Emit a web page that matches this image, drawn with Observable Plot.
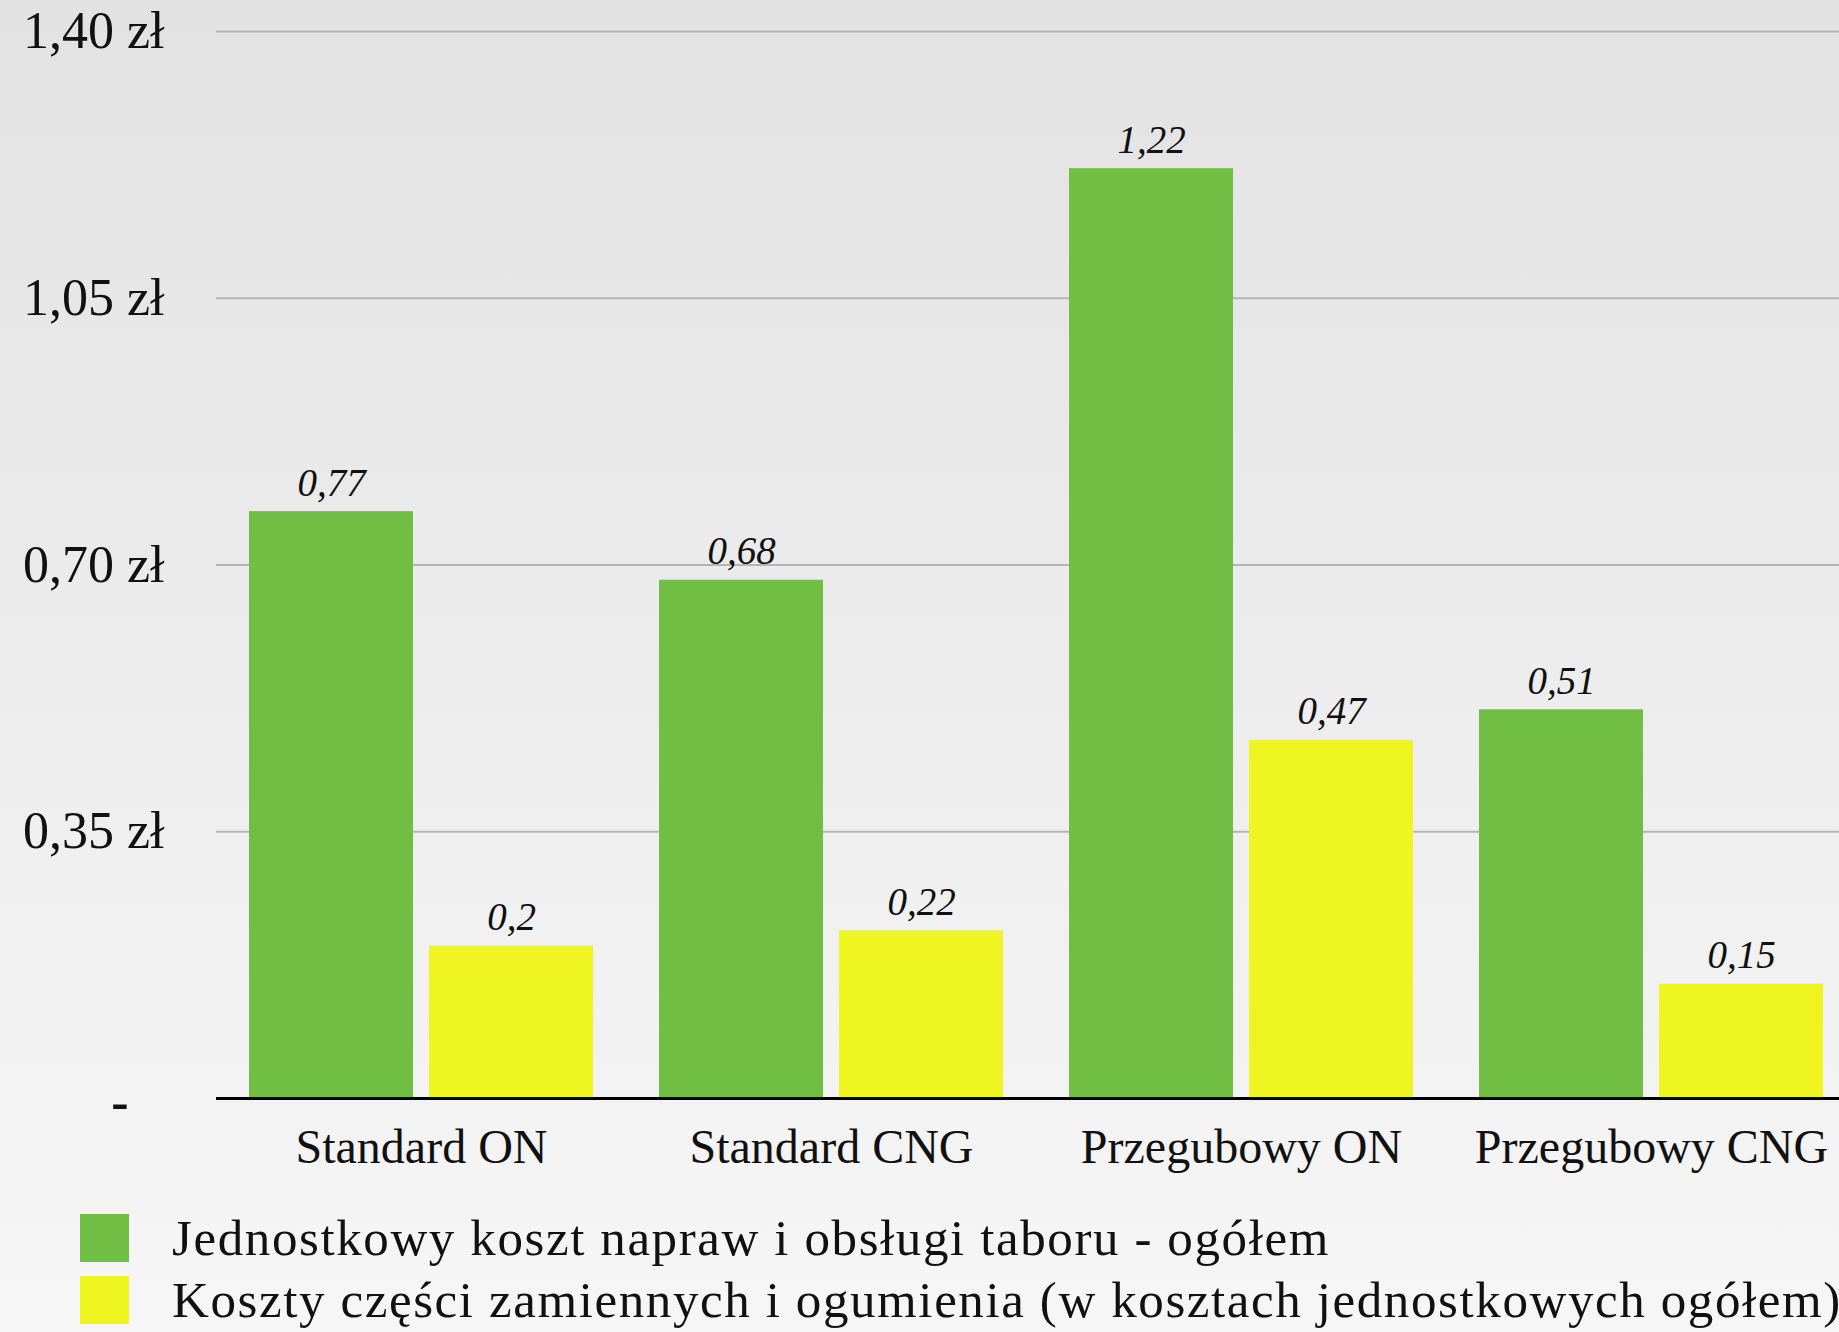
<!DOCTYPE html>
<html>
<head>
<meta charset="utf-8">
<script src="https://cdn.jsdelivr.net/npm/d3@7"></script>
<script src="https://cdn.jsdelivr.net/npm/@observablehq/plot@0.6"></script>
<style>
  html, body { margin: 0; padding: 0; }
  body {
    width: 1839px; height: 1332px; overflow: hidden;
    background: linear-gradient(to bottom, #e2e2e2 0px, #f0f0f0 900px, #f6f6f6 1332px);
    font-family: "Liberation Serif", "DejaVu Serif", serif;
    color: #111;
  }
  #chart svg { display: block; overflow: hidden; }
  #legend { padding-top: 21px; }
  .row { display: flex; align-items: center; height: 62px; line-height: 62px; padding-left: 80px; white-space: nowrap; }
  .sw { width: 49px; height: 48px; margin-right: 43px; flex: none; }
  .lab { font-size: 51px; letter-spacing: 1.6px; }
</style>
</head>
<body>
<div id="chart"></div>
<div id="legend"></div>
<script>
const categories = ["Standard ON", "Standard CNG", "Przegubowy ON", "Przegubowy CNG"];
const seriesNames = [
  "Jednostkowy koszt napraw i obsługi taboru - ogółem",
  "Koszty części zamiennych i ogumienia (w kosztach jednostkowych ogółem)"
];
const totalCost = [0.77, 0.68, 1.22, 0.51];
const partsCost = [0.20, 0.22, 0.47, 0.15];
const yTicks = [0.35, 0.70, 1.05, 1.40];
const zeroTick = [0];
const seriesColors = ["#70bf44", "#eef520"];

const data = categories.flatMap((c, i) => [
  {cat: c, series: seriesNames[0], value: totalCost[i]},
  {cat: c, series: seriesNames[1], value: partsCost[i]}
]);

const fmtValue = v => String(v).replace(".", ",");
const fmtTick = v => v.toFixed(2).replace(".", ",") + " zł";

const chart = Plot.plot({
  width: 1839,
  height: 1186,
  marginLeft: 215,
  marginRight: 0,
  marginTop: 31,
  marginBottom: 88,
  style: {background: "transparent", fontFamily: "'Liberation Serif', 'DejaVu Serif', serif", color: "#111"},
  fx: {domain: categories, range: [215, 1856], padding: 0, label: null},
  x: {domain: seriesNames, paddingInner: 0.091, paddingOuter: 0.18, axis: null},
  y: {domain: [0, 1.4], label: null},
  color: {domain: seriesNames, range: seriesColors},
  marks: [
    Plot.gridY(yTicks, {stroke: "#b4b4b4", strokeOpacity: 1, strokeWidth: 2}),
    Plot.barY(data, {fx: "cat", x: "series", y: "value", fill: "series"}),
    Plot.ruleY([0], {stroke: "#000", strokeWidth: 3}),
    Plot.text(data, {
      fx: "cat", x: "series", y: "value",
      text: d => fmtValue(d.value),
      lineAnchor: "bottom", dy: -16,
      fontSize: 39, fontStyle: "italic", fill: "#111"
    }),
    Plot.axisY(yTicks, {tickSize: 0, tickPadding: 52, fontSize: 52, tickFormat: fmtTick, label: null}),
    Plot.axisY(zeroTick, {tickSize: 0, tickPadding: 88, fontSize: 52, fontWeight: "bold", tickFormat: () => "-", dy: 4, label: null}),
    Plot.axisFx({anchor: "bottom", tickSize: 0, tickPadding: 30, fontSize: 48, label: null})
  ]
});
document.getElementById("chart").appendChild(chart);

const legend = document.getElementById("legend");
seriesNames.forEach((name, i) => {
  const row = document.createElement("div");
  row.className = "row";
  const sw = document.createElement("div");
  sw.className = "sw";
  sw.style.background = seriesColors[i];
  const lab = document.createElement("span");
  lab.className = "lab";
  lab.textContent = name;
  row.appendChild(sw);
  row.appendChild(lab);
  legend.appendChild(row);
});
</script>
</body>
</html>
